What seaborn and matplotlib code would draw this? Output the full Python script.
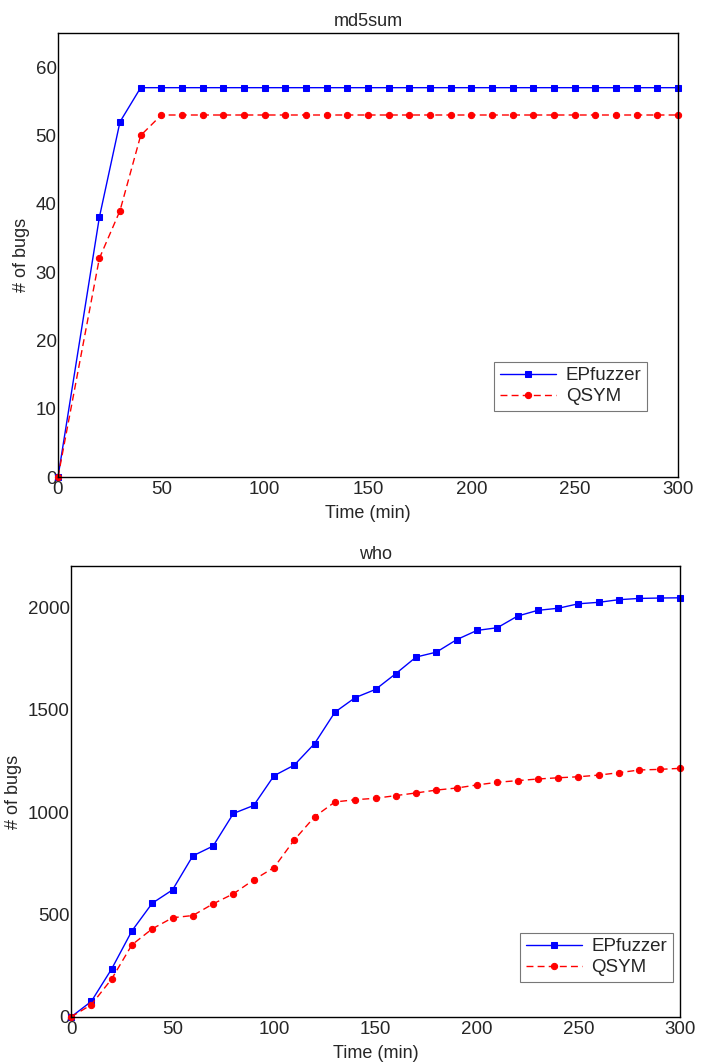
import matplotlib
matplotlib.use("Agg")
import matplotlib.pyplot as plt
import pandas as pd
import seaborn as sns


# md5sum panel
md5_time_ep = [0, 20, 30, 40] + list(range(50, 301, 10))
md5_ep = [0, 38, 52, 57] + [57] * 26
md5_time_qs = [0, 20, 30, 40] + list(range(50, 301, 10))
md5_qs = [0, 32, 39, 50] + [53] * 26

# who panel
who_time = list(range(0, 301, 10))
who_ep = [0, 76, 234, 420, 555, 620, 786, 834, 993, 1032, 1177, 1229, 1334, 1487,
          1558, 1598, 1675, 1756, 1780, 1841, 1886, 1899, 1956, 1984, 1994, 2016,
          2023, 2036, 2042, 2044, 2045]
who_qs = [0, 60, 185, 352, 430, 484, 495, 552, 601, 669, 729, 864, 977, 1049,
          1060, 1067, 1080, 1093, 1107, 1117, 1132, 1145, 1153, 1161, 1167, 1172,
          1180, 1192, 1205, 1208, 1213]


def draw(ax, t_ep, ep, t_qs, qs, title, ymax, yticks, legend_anchor):
    df_ep = pd.DataFrame({"t": t_ep, "n": ep})
    df_qs = pd.DataFrame({"t": t_qs, "n": qs})
    sns.lineplot(data=df_ep, x="t", y="n", ax=ax, color="#0000ff", marker="s",
                 markersize=4, markeredgecolor="#0000ff", linewidth=1.0,
                 label="EPfuzzer", clip_on=False)
    sns.lineplot(data=df_qs, x="t", y="n", ax=ax, color="#ff0000", marker="o",
                 markersize=4.5, markeredgecolor="#ff0000", linewidth=1.0,
                 linestyle=(0, (5, 3)), label="QSYM", clip_on=False)
    ax.set_xlim(0, 300)
    ax.set_ylim(0, ymax)
    ax.set_xticks(range(0, 301, 50))
    ax.set_yticks(yticks)
    ax.set_title(title, fontsize=13, pad=5)
    ax.set_xlabel("Time (min)", fontsize=13, labelpad=5)
    ax.set_ylabel("# of bugs", fontsize=13)
    ax.tick_params(direction="in", length=3, labelsize=13.5)
    ax.tick_params(axis="x", pad=3)
    ax.tick_params(axis="y", pad=1)
    for s in ax.spines.values():
        s.set_color("black")
        s.set_linewidth(1.0)
    leg = ax.legend(loc="lower right", bbox_to_anchor=legend_anchor, fontsize=13.5,
                    frameon=True, fancybox=False, edgecolor="#555555",
                    handlelength=3.0, borderpad=0.3, labelspacing=0.2,
                    handletextpad=0.5, borderaxespad=0)
    leg.get_frame().set_linewidth(0.8)


def main():
    sns.set_theme(style="white")
    plt.rcParams["font.family"] = ["Liberation Sans", "DejaVu Sans"]
    fig = plt.figure(figsize=(7.16, 10.62), dpi=100)
    ax1 = fig.add_axes([0.081, 0.5508, 0.866, 0.4181])
    ax2 = fig.add_axes([0.0992, 0.0424, 0.8505, 0.4246])

    draw(ax1, md5_time_ep, md5_ep, md5_time_qs, md5_qs, "md5sum", 65,
         range(0, 61, 10), (0.95, 0.149))
    draw(ax2, who_time, who_ep, who_time, who_qs, "who", 2200,
         range(0, 2001, 500), (0.988, 0.078))

    fig.savefig("out.png", dpi=100)
    plt.close(fig)


if __name__ == "__main__":
    main()
